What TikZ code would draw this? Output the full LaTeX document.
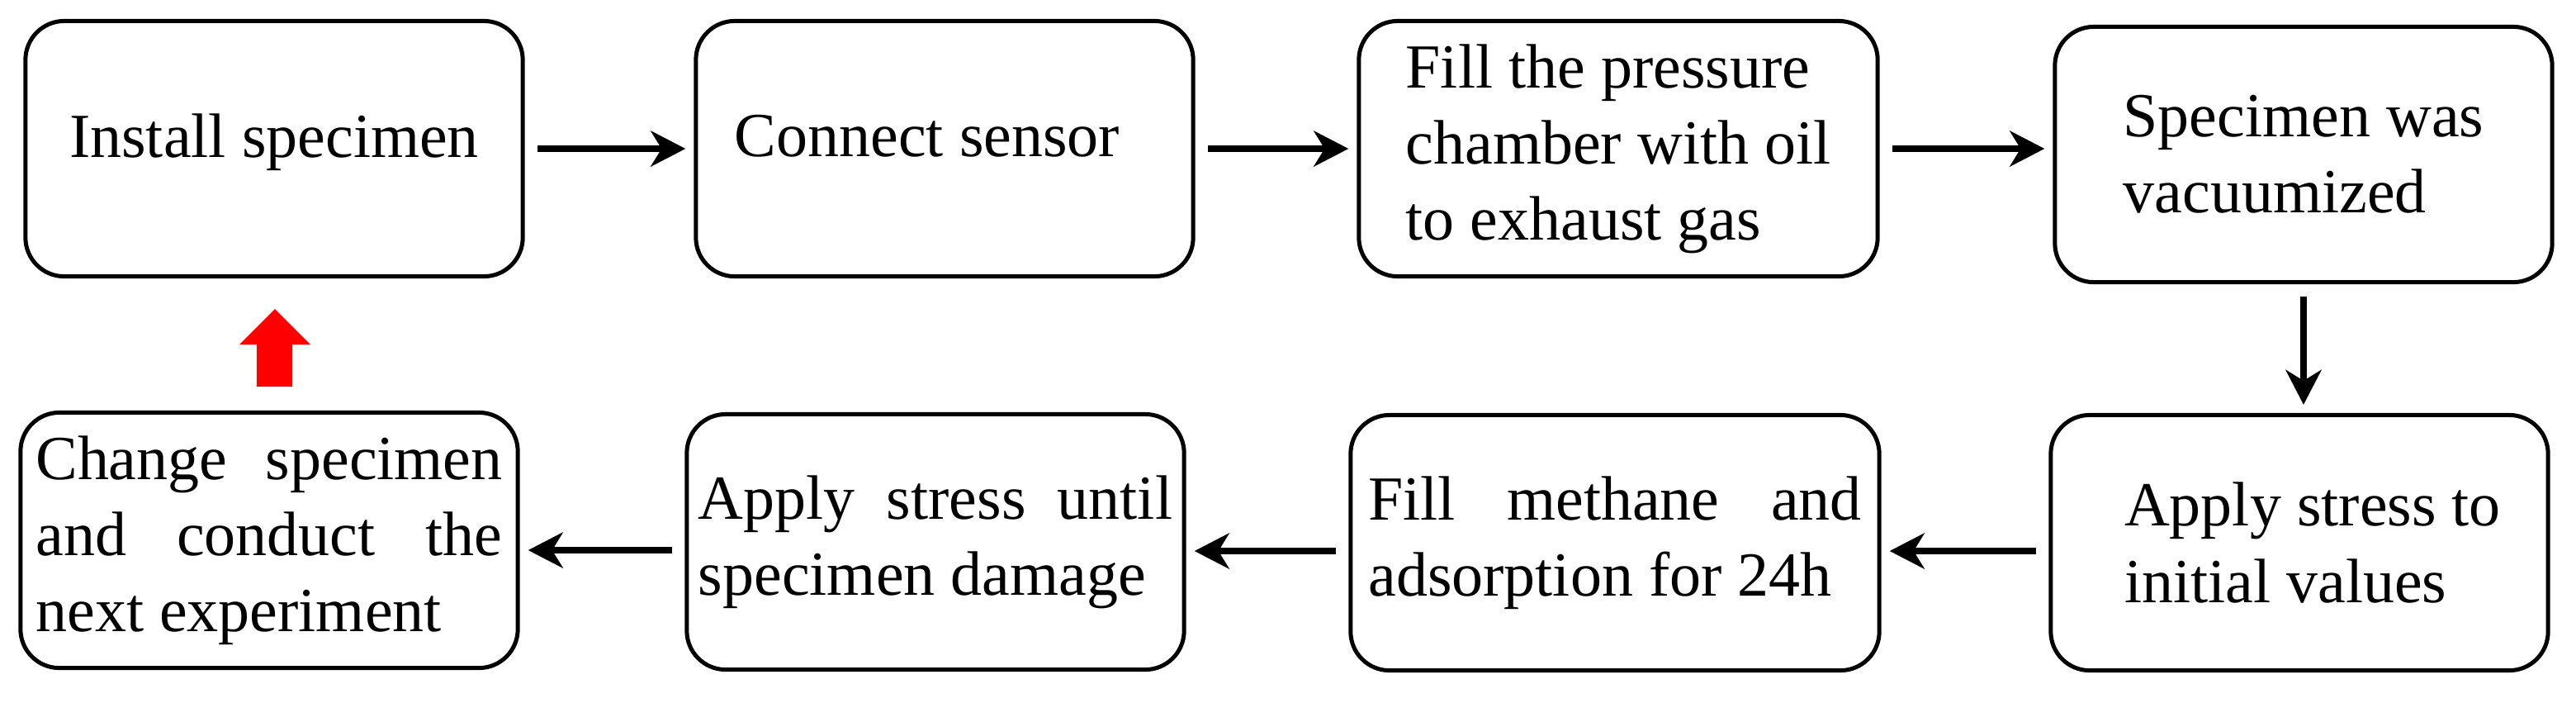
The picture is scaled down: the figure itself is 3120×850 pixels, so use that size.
\documentclass[tikz,border=0pt]{standalone}
\usepackage{fontspec}
\setmainfont{Liberation Serif}
\usetikzlibrary{arrows.meta}
% stretched line for the justified rows
\newcommand{\jline}[2]{\makebox[#1][s]{#2}}

\begin{document}
\begin{tikzpicture}[x=0.01cm, y=-0.01cm,
        box/.style={draw, line width=0.05cm, rounded corners=0.47cm, minimum width=6.02cm, minimum height=3.09cm,
                    inner sep=0pt, align=left, font=\fontsize{21.6}{26.2}\selectfont},
        flow/.style={-{Stealth[length=0.42cm, width=0.43cm, inset=0.13cm]}, line width=0.08cm,
                     shorten <=0.15cm, shorten >=0.1cm}]
    \useasboundingbox (0,0) rectangle (3120,850);
    % upper row
    \node[box, text depth=0.32cm] (b1) at (332,180) {Install specimen};
    \node[box, text depth=0.32cm] (b2) at (1144,180) {Connect sensor\hspace*{0.42cm}};
    \node[box, minimum width=6.28cm] (b3) at (1960,180) {Fill the pressure\\chamber with oil\\to exhaust gas};
    \node[box] (b4) at (2790,187) {Specimen was\\vacuumized};
    % lower row
    \node[box] (b5) at (326,654) {\jline{5.65cm}{Change specimen}\\\jline{5.65cm}{and conduct the}\\next experiment};
    \node[box] (b6) at (1133,656) {\jline{5.74cm}{Apply stress until}\\specimen damage};
    \node[box, minimum width=6.4cm] (b7) at (1956,657) {\jline{5.97cm}{Fill methane and}\\adsorption for 24h};
    \node[box] (b8) at (2785,657) {\hspace*{0.32cm}Apply stress to\\\hspace*{0.32cm}initial values};
    \foreach \a/\b in {b1/b2, b2/b3, b3/b4}
    {
        \draw[flow] (\a.east) -- (\a.east -| \b.west);
    }
    \draw[flow] (b4.south) -- (b4.south |- b8.north);
    \foreach \a/\b in {b8/b7, b7/b6, b6/b5}
    {
        \draw[flow] ([yshift=-0.1cm]\a.west) -- ([yshift=-0.1cm]\a.west -| \b.east);
    }
    \fill[red] (333,374) -- (376,417) -- (354,417) -- (354,468) -- (311,468) -- (311,417) -- (290,417) -- cycle;
\end{tikzpicture}
\end{document}
